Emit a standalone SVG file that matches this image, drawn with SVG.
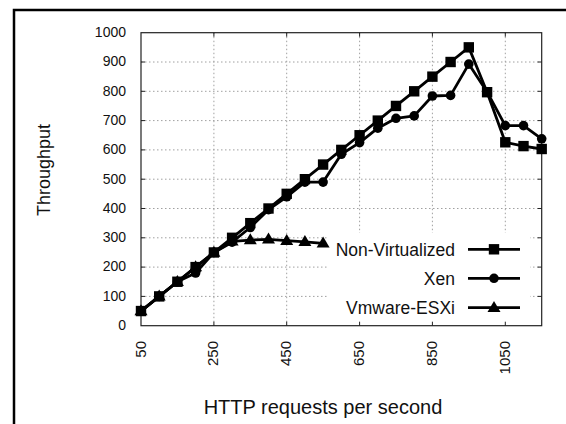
<svg xmlns="http://www.w3.org/2000/svg" width="566" height="424" viewBox="0 0 566 424">
<defs>
<style>
.grid{stroke:#a0a0a0;stroke-width:1;stroke-dasharray:1.5,2.5;fill:none}
.frame{stroke:#222;stroke-width:1.2;fill:none}
.tick{stroke:#222;stroke-width:1}
.series{fill:none;stroke:#000;stroke-width:2.8;stroke-linejoin:round}
.t{font-family:"Liberation Sans",Arial,sans-serif;fill:#111}
.yl{font-size:14px;text-anchor:end}
.xl{font-size:15px;text-anchor:end}
.lg{font-size:17.5px;text-anchor:end}
#s-nv{marker-start:url(#msq);marker-mid:url(#msq);marker-end:url(#msq)}
#s-xen{marker-start:url(#mci);marker-mid:url(#mci);marker-end:url(#mci)}
#s-vm{marker-start:url(#mtr);marker-mid:url(#mtr);marker-end:url(#mtr)}
</style>
<marker id="msq" viewBox="-7 -7 14 14" markerWidth="14" markerHeight="14" refX="0" refY="0" markerUnits="userSpaceOnUse" overflow="visible"><rect x="-5.2" y="-5.2" width="10.4" height="10.4" fill="#000"/></marker>
<marker id="mci" viewBox="-7 -7 14 14" markerWidth="14" markerHeight="14" refX="0" refY="0" markerUnits="userSpaceOnUse" overflow="visible"><circle r="4.8" fill="#000"/></marker>
<marker id="mtr" viewBox="-8 -8 16 16" markerWidth="16" markerHeight="16" refX="0" refY="0" markerUnits="userSpaceOnUse" overflow="visible"><polygon points="0,-6.8 6.5,4.2 -6.5,4.2" fill="#000"/></marker>
</defs>
<rect width="566" height="424" fill="#fff"/>
<g id="border"><path d="M14 424 V10 H566" fill="none" stroke="#000" stroke-width="2.5"/></g>
<g id="grid" class="grid">
<path d="M141 296.4H541.7M141 267.1H541.7M141 237.8H541.7M141 208.5H541.7M141 179.2H541.7M141 149.9H541.7M141 120.6H541.7M141 91.3H541.7M141 62H541.7"/>
<path d="M213.9 32.7V325.7M286.7 32.7V325.7M359.6 32.7V325.7M432.4 32.7V325.7M505.3 32.7V325.7"/>
</g>
<rect id="key-bg" x="329" y="233" width="201" height="92.7" fill="#fff"/>
<g id="axes">
<rect class="frame" x="141" y="32.7" width="400.7" height="293"/>
<path class="tick" d="M141 296.4h4M141 267.1h4M141 237.8h4M141 208.5h4M141 179.2h4M141 149.9h4M141 120.6h4M141 91.3h4M141 62h4M541.7 296.4h-4M541.7 267.1h-4M541.7 237.8h-4M541.7 208.5h-4M541.7 179.2h-4M541.7 149.9h-4M541.7 120.6h-4M541.7 91.3h-4M541.7 62h-4M213.9 325.7v-4M286.7 325.7v-4M359.6 325.7v-4M432.4 325.7v-4M505.3 325.7v-4M213.9 32.7v4M286.7 32.7v4M359.6 32.7v4M432.4 32.7v4M505.3 32.7v4"/>
</g>
<g id="ytick-labels" class="t yl">
<text x="126" y="330">0</text>
<text x="126" y="300.7">100</text>
<text x="126" y="271.4">200</text>
<text x="126" y="242.1">300</text>
<text x="126" y="212.8">400</text>
<text x="126" y="183.5">500</text>
<text x="126" y="154.2">600</text>
<text x="126" y="124.9">700</text>
<text x="126" y="95.6">800</text>
<text x="126" y="66.3">900</text>
<text x="126" y="37">1000</text>
</g>
<g id="xtick-labels" class="t xl">
<text transform="translate(145.5,341) rotate(-90)">50</text>
<text transform="translate(218.4,341) rotate(-90)">250</text>
<text transform="translate(291.2,341) rotate(-90)">450</text>
<text transform="translate(364.1,341) rotate(-90)">650</text>
<text transform="translate(436.9,341) rotate(-90)">850</text>
<text transform="translate(509.8,341) rotate(-90)">1050</text>
</g>
<text id="ylabel" class="t" font-size="18" text-anchor="middle" transform="translate(50,170) rotate(-90)">Throughput</text>
<text id="xlabel" class="t" x="323" y="414" font-size="20" text-anchor="middle">HTTP requests per second</text>
<g id="data">
<polyline id="s-vm" class="series" points="141,311.05 159.2,296.4 177.4,281.75 195.6,267.1 213.9,252.45 232.1,241.3 250.3,240.1 268.5,239.3 286.7,240.7 304.9,241.9 323.1,243.4"/>
<polyline id="s-xen" class="series" points="141,311.05 159.2,296.4 177.4,281.75 195.6,273 213.9,252.45 232.1,242.2 250.3,227.5 268.5,209.7 286.7,196.8 304.9,182.1 323.1,182.1 341.3,154.3 359.6,142.6 377.8,128.2 396,118.3 414.2,115.9 432.4,96 450.6,95.4 468.8,64.1 487.1,91.9 505.3,125.6 523.5,125.6 541.7,138.8"/>
<polyline id="s-nv" class="series" points="141,311.05 159.2,296.4 177.4,281.75 195.6,267.1 213.9,252.45 232.1,237.8 250.3,223.15 268.5,208.5 286.7,193.85 304.9,179.2 323.1,164.55 341.3,149.9 359.6,135.25 377.8,120.6 396,105.95 414.2,91.3 432.4,76.65 450.6,62 468.8,47.35 487.1,92.2 505.3,142.3 523.5,146.1 541.7,149"/>
</g>
<g id="legend">
<g id="leg-nv"><text class="t lg" x="455" y="255.5">Non-Virtualized</text><line class="series" x1="468" y1="249.3" x2="520" y2="249.3"/><rect x="488.8" y="244.1" width="10.4" height="10.4"/></g>
<g id="leg-xen"><text class="t lg" x="455" y="284.5">Xen</text><line class="series" x1="468" y1="278.3" x2="520" y2="278.3"/><circle cx="494" cy="278.3" r="4.8"/></g>
<g id="leg-vm"><text class="t lg" x="455" y="313.8">Vmware-ESXi</text><line class="series" x1="468" y1="307.7" x2="520" y2="307.7"/><polygon points="494,300.9 500.5,311.9 487.5,311.9"/></g>
</g>
</svg>
